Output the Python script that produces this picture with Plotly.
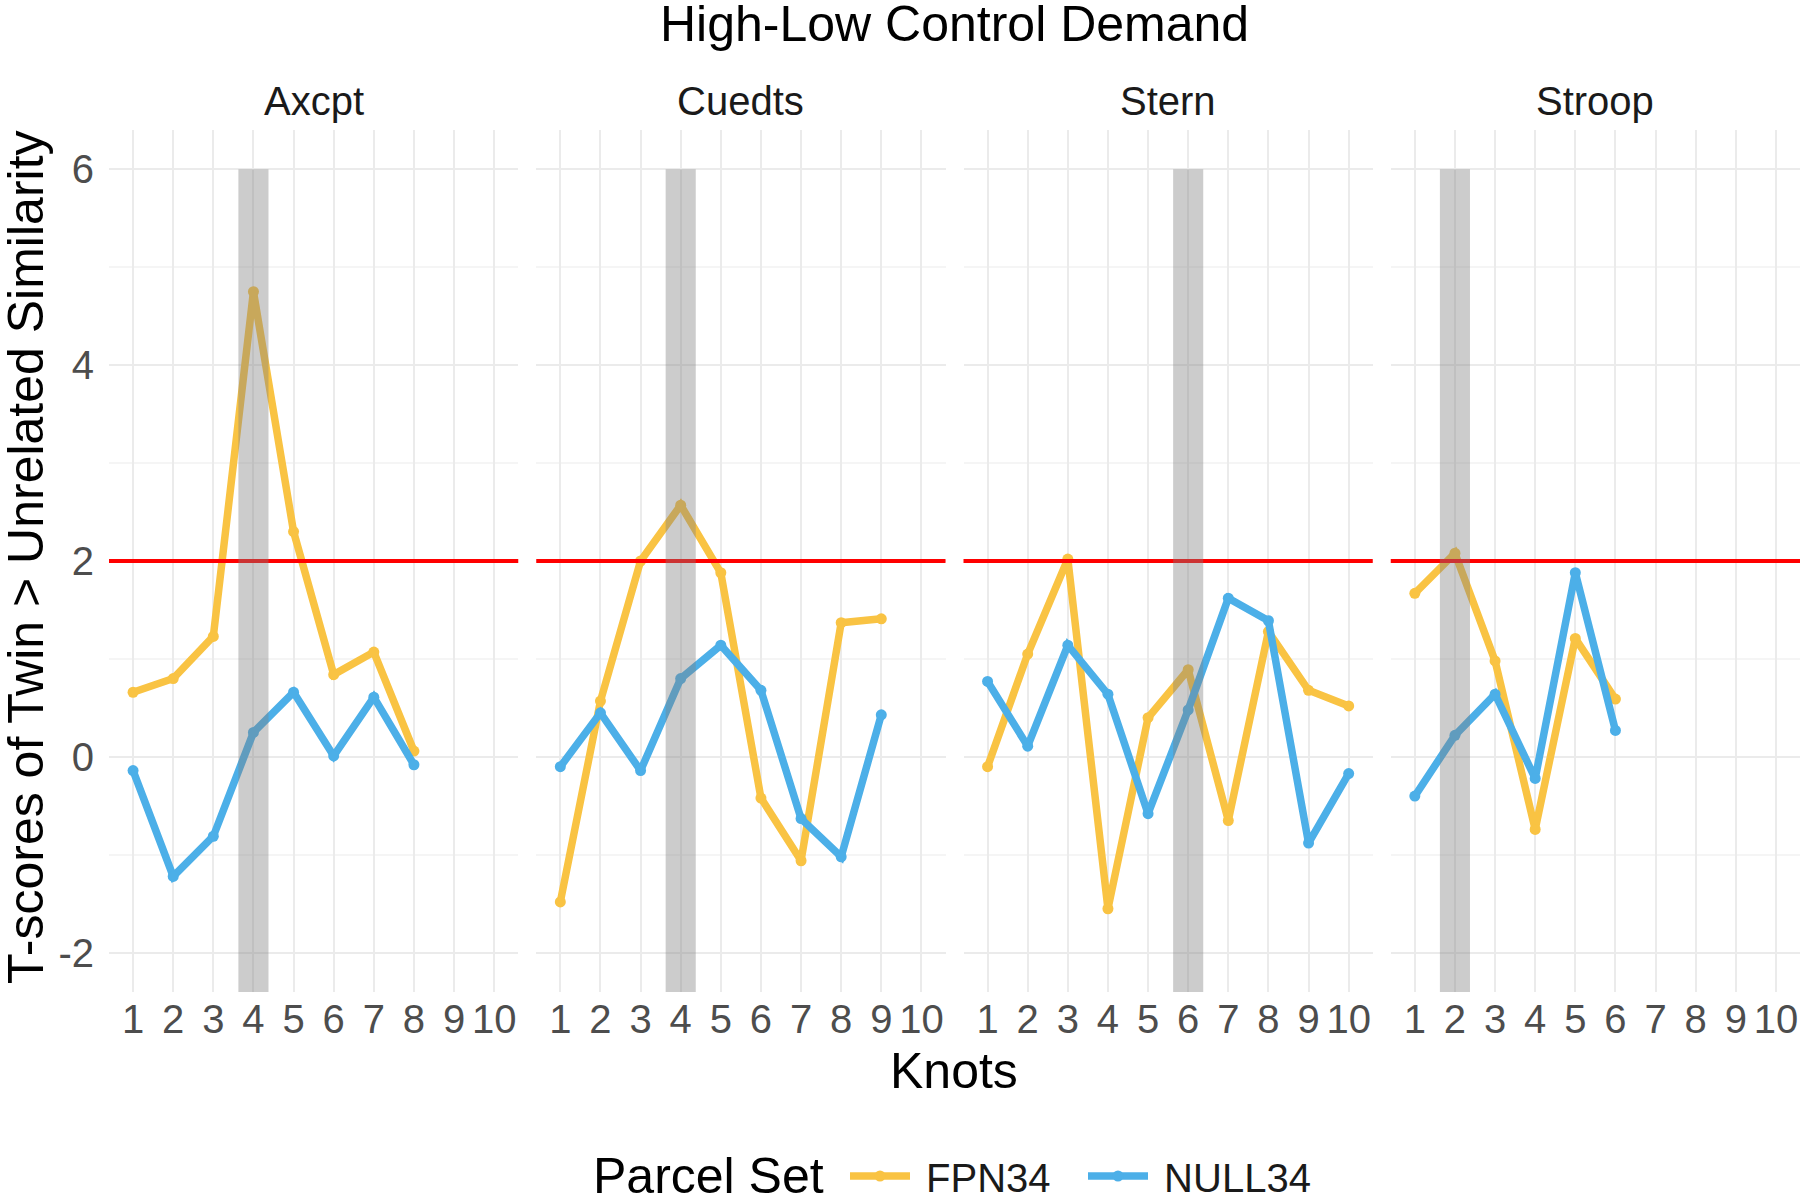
import plotly.graph_objects as go
from plotly.subplots import make_subplots

# ---------------- data ----------------
tasks = ["Axcpt", "Cuedts", "Stern", "Stroop"]
knots_axcpt = [1, 2, 3, 4, 5, 6, 7, 8]
knots_cuedts = [1, 2, 3, 4, 5, 6, 7, 8, 9]
knots_stern = [1, 2, 3, 4, 5, 6, 7, 8, 9, 10]
knots_stroop = [1, 2, 3, 4, 5, 6]

fpn_axcpt = [0.66, 0.80, 1.23, 4.75, 2.30, 0.84, 1.07, 0.06]
null_axcpt = [-0.14, -1.22, -0.81, 0.25, 0.66, 0.01, 0.61, -0.08]

fpn_cuedts = [-1.48, 0.57, 2.00, 2.57, 1.88, -0.42, -1.06, 1.37, 1.41]
null_cuedts = [-0.10, 0.45, -0.14, 0.80, 1.14, 0.68, -0.63, -1.02, 0.43]

fpn_stern = [-0.10, 1.05, 2.02, -1.55, 0.40, 0.89, -0.65, 1.28, 0.68, 0.52]
null_stern = [0.77, 0.11, 1.14, 0.64, -0.58, 0.48, 1.62, 1.39, -0.88, -0.17]

fpn_stroop = [1.67, 2.08, 0.98, -0.74, 1.21, 0.59]
null_stroop = [-0.40, 0.22, 0.64, -0.22, 1.88, 0.27]

highlight_knots = [4, 4, 6, 2]
threshold = 2
tick_knots = [1, 2, 3, 4, 5, 6, 7, 8, 9, 10]
y_ticks = [-2, 0, 2, 4, 6]
y_ticktext = ["-2", "0", "2", "4", "6"]
series_names = ["FPN34", "NULL34"]

# ---------------- styling ----------------
FONT = "Liberation Sans, Arial, sans-serif"
COL_FPN = "#F9C343"
COL_NULL = "#4CAFE8"
W, H = 1800, 1201
ML, MR, MT, MB = 109, 0, 130, 1201 - 992
PW = W - ML - MR
PH = H - MT - MB
YR = [-2.4, 6.4]

knots = [knots_axcpt, knots_cuedts, knots_stern, knots_stroop]
fpn = [fpn_axcpt, fpn_cuedts, fpn_stern, fpn_stroop]
null = [null_axcpt, null_cuedts, null_stern, null_stroop]

fig = make_subplots(rows=1, cols=4, shared_yaxes=True,
                    horizontal_spacing=18 / PW)

for i in range(4):
    col = i + 1
    fig.add_trace(go.Scatter(
        x=knots[i], y=fpn[i], mode="lines+markers", name="\u00a0" + series_names[0],
        line=dict(color=COL_FPN, width=7.5), marker=dict(color=COL_FPN, size=11),
        legendgroup="fpn", showlegend=(i == 0)), row=1, col=col)
    fig.add_trace(go.Scatter(
        x=knots[i], y=null[i], mode="lines+markers", name="\u00a0" + series_names[1],
        line=dict(color=COL_NULL, width=7.5), marker=dict(color=COL_NULL, size=11),
        legendgroup="null", showlegend=(i == 0)), row=1, col=col)

shapes = []
for i in range(4):
    sfx = "" if i == 0 else str(i + 1)
    shapes.append(dict(type="line", xref=f"x{sfx} domain", yref=f"y{sfx}",
                       x0=0, x1=1, y0=threshold, y1=threshold,
                       line=dict(color="#FF0000", width=4), layer="above"))
for i in range(4):
    sfx = "" if i == 0 else str(i + 1)
    k = highlight_knots[i]
    shapes.append(dict(type="rect", xref=f"x{sfx}", yref=f"y{sfx}",
                       x0=k - 0.375, x1=k + 0.375, y0=YR[0], y1=6,
                       fillcolor="rgba(128,128,128,0.4)", line=dict(width=0),
                       layer="above"))

# pixel -> paper coordinate
def py(pix):
    return (H - MB - pix) / PH

def px(pix):
    return (pix - ML) / PW

annotations = []
for i in range(4):
    sfx = "" if i == 0 else str(i + 1)
    annotations.append(dict(text=tasks[i], xref=f"x{sfx} domain", yref="paper",
                            x=0.5, y=py(101), showarrow=False,
                            xanchor="center", yanchor="middle",
                            font=dict(family=FONT, size=40, color="#1A1A1A")))
annotations.append(dict(text="High-Low Control Demand", xref="paper", yref="paper",
                        x=px(954), y=py(24), showarrow=False, xanchor="center",
                        yanchor="middle", font=dict(family=FONT, size=50, color="#000000")))
annotations.append(dict(text="Knots", xref="paper", yref="paper",
                        x=px(954), y=py(1071), showarrow=False, xanchor="center",
                        yanchor="middle", font=dict(family=FONT, size=50, color="#000000")))
annotations.append(dict(text="T-scores of Twin > Unrelated Similarity", xref="paper",
                        yref="paper", x=px(26), y=py(557), showarrow=False,
                        textangle=-90, xanchor="center", yanchor="middle",
                        font=dict(family=FONT, size=50, color="#000000")))
annotations.append(dict(text="Parcel Set", xref="paper", yref="paper",
                        x=px(708), y=py(1176), showarrow=False, xanchor="center",
                        yanchor="middle", font=dict(family=FONT, size=50, color="#000000")))

fig.update_xaxes(range=[0.4, 10.6], tickmode="array", tickvals=tick_knots,
                 ticktext=[str(t) for t in tick_knots],
                 showgrid=True, gridcolor="#EBEBEB", gridwidth=1.5, zeroline=False,
                 showline=False, ticks="", ticklabelstandoff=0,
                 tickfont=dict(family=FONT, size=40, color="#4D4D4D"))
fig.update_yaxes(range=YR, tickmode="array", tickvals=y_ticks, ticktext=y_ticktext,
                 showgrid=True, gridcolor="#EBEBEB",
                 gridwidth=2, zeroline=False, showline=False,
                 minor=dict(tickmode="array", tickvals=[-1, 1, 3, 5], showgrid=True,
                            gridcolor="#F5F5F5", gridwidth=1.5),
                 ticks="outside", ticklen=6, tickcolor="rgba(0,0,0,0)",
                 tickfont=dict(family=FONT, size=40, color="#4D4D4D"))

fig.update_layout(
    width=W, height=H,
    margin=dict(l=ML, r=MR, t=MT, b=MB, autoexpand=False),
    plot_bgcolor="white", paper_bgcolor="white",
    shapes=shapes, annotations=annotations,
    font=dict(family=FONT),
    legend=dict(orientation="h", xref="container", yref="container",
                x=845 / W, xanchor="left",
                y=(H - 1176) / H, yanchor="middle",
                font=dict(family=FONT, size=40, color="#1A1A1A"),
                itemwidth=60, entrywidth=163, bgcolor="rgba(0,0,0,0)"),
)

fig.write_html("out.html", config={"displayModeBar": False},
               post_script="document.body.style.margin='0';"
                           "document.body.style.overflow='hidden';")
